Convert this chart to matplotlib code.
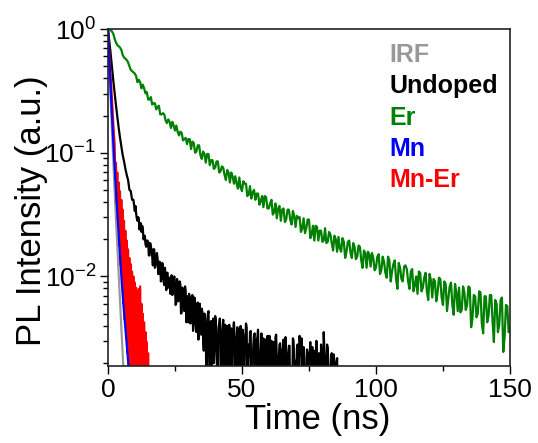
import numpy as np
import matplotlib
matplotlib.use("Agg")
import matplotlib.pyplot as plt
from matplotlib.ticker import FixedLocator, LogLocator

plt.rcParams['font.family'] = ['Liberation Sans', 'DejaVu Sans']
plt.rcParams['mathtext.default'] = 'regular'

# PL decay curves, log10 of normalised intensity
# IRF, Mn: 0.5 ns steps from t = 0
irf_log = [0.00, -0.28, -0.56, -0.82, -1.07, -1.31, -1.54, -1.76, -1.98,
           -2.20, -2.42, -2.63, -2.85]
mn_log = [0.00, -0.24, -0.48, -0.70, -0.92, -1.12, -1.31, -1.49, -1.66,
          -1.83, -2.00, -2.15, -2.29, -2.42, -2.55, -2.68, -2.80]

# Mn-Er: 0.25 ns steps from t = 0
mner_log = [0.00, -0.10, -0.19, -0.29, -0.38, -0.47, -0.57, -0.66, -0.76, -0.85,
            -0.93, -1.21, -1.08, -1.40, -1.16, -1.58, -1.24, -1.75, -1.31, -1.91,
            -1.38, -2.08, -1.46, -2.22, -1.55, -2.35, -1.63, -2.48, -1.71, -2.62,
            -1.78, -2.85, -1.85, -2.90, -1.90, -2.95, -1.96, -3.00, -2.00, -3.00,
            -2.05, -3.00, -2.09, -3.00, -2.12, -3.00, -2.10, -3.00, -2.08, -3.00,
            -2.22, -3.00, -2.30, -3.00, -2.37, -3.00, -2.45, -3.00, -2.53, -3.00,
            -2.62, -3.00, -2.75]

# Undoped: 0.5 ns steps from t = 0
undoped_log = [
    0.00, -0.10, -0.20, -0.31, -0.42, -0.52, -0.62, -0.71, -0.80, -0.88,
    -0.95, -1.02, -1.07, -1.13, -1.18,
    -1.22, -1.30, -1.31, -1.38, -1.38, -1.47, -1.49, -1.55, -1.53, -1.57,
    -1.64, -1.61, -1.68, -1.74, -1.71, -1.72,
    -1.83, -1.76, -1.84, -1.78, -1.93, -1.86, -1.85, -1.98, -1.91, -2.00,
    -1.91, -2.07, -1.99, -1.97, -2.09, -2.01, -2.09, -2.15, -2.03, -2.08,
    -2.21, -2.05, -2.18, -2.06, -2.29, -2.13, -2.28, -2.12, -2.20, -2.37,
    -2.17, -2.30, -2.15, -2.37, -2.24, -2.45, -2.21, -2.28, -2.44, -2.26,
    -2.52, -2.30, -2.41, -2.62, -2.28, -2.90, -2.36, -2.45, -2.70, -2.32,
    -2.55, -3.00, -2.38, -2.47, -2.66, -2.35, -3.00, -2.50, -2.40, -2.75,
    -3.00, -2.42, -2.58, -2.37, -3.00, -2.52, -2.44, -2.80, -2.40, -3.00,
    -2.48, -2.62, -2.38, -3.00, -2.55, -2.45, -3.00, -2.70, -2.47, -3.00,
    -2.52, -2.43, -3.00, -2.60, -3.00, -2.50, -2.66, -3.00, -2.48, -3.00,
    -2.58, -2.52, -3.00, -3.00, -2.49, -2.68, -3.00, -2.55, -3.00, -2.60,
    -2.51, -3.00, -2.65, -3.00, -2.56, -3.00, -3.00, -2.50, -2.70, -3.00,
    -2.58, -3.00, -2.48, -2.64, -3.00, -2.57, -3.00, -3.00, -2.62, -3.00,
    -2.53, -2.70, -3.00, -2.60, -3.00, -2.66, -3.00, -3.00, -2.55, -3.00,
    -2.45, -2.68, -3.00, -2.58, -3.00, -3.00, -2.62, -3.00, -2.70, -3.00,
    -2.66, -3.00]

# Undoped: extra readings at t = 10.25, 10.75, ... 85.75
undoped_q_log = [
    -1.43, -1.53, -1.52, -1.62, -1.57, -1.59, -1.70, -1.67, -1.76, -1.71,
    -1.83, -1.73, -1.78, -1.91, -1.78, -1.91, -1.81, -1.98, -1.88, -2.04,
    -1.89, -2.04, -1.93, -2.11, -1.97, -2.02, -2.14, -1.99, -2.13, -2.00,
    -2.23, -2.02, -2.20, -2.04, -2.30, -2.09, -2.22, -2.08, -2.37, -2.16,
    -2.14, -2.38, -2.18, -2.44, -2.17, -2.38, -2.22, -2.51, -2.22, -2.47,
    -2.29, -2.60, -2.33, -3.00, -2.31, -2.55, -2.37, -2.80, -2.34, -2.58,
    -2.36, -2.90, -2.42, -2.34, -3.00, -2.44, -2.62, -2.39, -3.00, -2.45,
    -2.39, -2.68, -3.00, -2.43, -2.50, -3.00, -2.41, -2.72, -2.46, -3.00,
    -2.43, -3.00, -2.52, -2.41, -3.00, -2.65, -2.44, -3.00, -2.55, -2.46,
    -3.00, -2.49, -2.70, -3.00, -2.46, -2.58, -3.00, -2.51, -3.00, -2.56,
    -2.48, -3.00, -2.62, -2.53, -3.00, -2.47, -3.00, -2.66, -2.54, -3.00,
    -2.58, -3.00, -2.49, -3.00, -2.63, -2.56, -3.00, -3.00, -2.52, -2.68,
    -3.00, -2.55, -3.00, -2.60, -2.50, -3.00, -2.66, -3.00, -2.59, -3.00,
    -2.64, -3.00, -2.57, -3.00, -2.70, -2.52, -3.00, -2.62, -3.00, -2.67,
    -3.00, -2.60, -3.00, -2.55, -2.72, -3.00, -2.66, -3.00, -2.63, -3.00,
    -2.70, -3.00]

# Er: readings at whole ns (t = 1..150)
er_log = [
    -0.01, -0.04, -0.11, -0.14, -0.17, -0.23, -0.25, -0.30, -0.34, -0.36,
    -0.43, -0.43, -0.45, -0.52, -0.57, -0.55, -0.60, -0.65, -0.62, -0.69,
    -0.69, -0.76, -0.75, -0.75, -0.82, -0.83, -0.83, -0.90, -0.88, -0.89,
    -0.97, -0.92, -0.99, -0.94, -1.05, -1.01, -1.01, -1.10, -1.06, -1.12,
    -1.07, -1.15, -1.12, -1.22, -1.16, -1.16, -1.25, -1.25, -1.20, -1.31,
    -1.25, -1.35, -1.27, -1.32, -1.38, -1.33, -1.39, -1.44, -1.36, -1.45,
    -1.38, -1.48, -1.53, -1.43, -1.46, -1.56, -1.46, -1.54, -1.47, -1.60,
    -1.53, -1.64, -1.53, -1.61, -1.54, -1.66, -1.71, -1.60, -1.63, -1.72,
    -1.61, -1.72, -1.66, -1.79, -1.70, -1.68, -1.80, -1.72, -1.80, -1.71,
    -1.85, -1.76, -1.84, -1.76, -1.93, -1.81, -1.80, -1.92, -1.85, -1.93,
    -1.82, -1.95, -1.88, -2.01, -1.87, -1.96, -1.87, -2.10, -1.93, -2.04,
    -1.91, -2.04, -1.96, -2.12, -2.00, -1.96, -2.12, -2.01, -2.12, -1.98,
    -2.17, -2.04, -2.13, -2.02, -2.23, -2.06, -2.18, -2.05, -2.31, -2.13,
    -2.09, -2.27, -2.13, -2.23, -2.09, -2.34, -2.16, -2.30, -2.13, -2.46,
    -2.16, -2.32, -2.15, -2.53, -2.22, -2.39, -2.17, -2.49, -2.24, -2.42]

# Er: readings at half ns (t = 1.5..149.5)
er_half_log = [
    -0.02, -0.08, -0.13, -0.15, -0.21, -0.24, -0.27, -0.33, -0.35, -0.38,
    -0.41, -0.48, -0.48, -0.51, -0.57, -0.61, -0.60, -0.63, -0.69, -0.68,
    -0.74, -0.73, -0.80, -0.78, -0.78, -0.86, -0.84, -0.89, -0.93, -0.89,
    -0.91, -1.00, -0.94, -1.02, -0.99, -1.08, -1.01, -1.06, -1.13, -1.07,
    -1.16, -1.11, -1.18, -1.14, -1.24, -1.19, -1.19, -1.29, -1.28, -1.23,
    -1.25, -1.34, -1.37, -1.30, -1.33, -1.42, -1.35, -1.35, -1.45, -1.41,
    -1.50, -1.41, -1.45, -1.55, -1.45, -1.54, -1.46, -1.58, -1.51, -1.51,
    -1.52, -1.61, -1.65, -1.54, -1.69, -1.59, -1.59, -1.71, -1.63, -1.71,
    -1.73, -1.64, -1.73, -1.67, -1.80, -1.77, -1.69, -1.85, -1.72, -1.81,
    -1.73, -1.86, -1.75, -1.87, -1.79, -1.93, -1.82, -1.81, -1.95, -1.84,
    -1.98, -1.84, -1.97, -1.84, -2.04, -1.90, -2.02, -1.89, -2.02, -1.92,
    -1.94, -2.10, -1.94, -2.07, -2.14, -1.97, -2.09, -1.97, -2.19, -2.03,
    -2.02, -2.20, -2.01, -2.17, -2.04, -2.28, -2.08, -2.23, -2.06, -2.28,
    -2.29, -2.08, -2.27, -2.08, -2.41, -2.15, -2.33, -2.12, -2.38, -2.16,
    -2.37, -2.15, -2.36, -2.19, -2.45, -2.19, -2.61, -2.23, -2.45]

labels = ['IRF', 'Undoped', 'Er', 'Mn', 'Mn-Er']
colors = ['#999999', 'black', '#008000', '#0000ff', '#ff0000']


def merge(t_a, v_a, t_b, v_b):
    # put two sets of readings of the same trace in time order
    t = np.concatenate([t_a, t_b])
    v = np.concatenate([v_a, v_b])
    idx = np.argsort(t, kind='stable')
    return t[idx], v[idx]


t_irf = np.arange(len(irf_log)) * 0.5
t_mn = np.arange(len(mn_log)) * 0.5
t_mner = np.arange(len(mner_log)) * 0.25
t_und, v_und = merge(np.arange(len(undoped_log)) * 0.5, undoped_log,
                     10.25 + np.arange(len(undoped_q_log)) * 0.5, undoped_q_log)
t_er, v_er = merge(np.arange(1, len(er_log) + 1) * 1.0, er_log,
                   np.arange(1, len(er_half_log) + 1) + 0.5, er_half_log)

fig = plt.figure(figsize=(5.38, 4.43), dpi=100)
ax = fig.add_axes([0.2007, 0.1738, 0.7472, 0.7607])

ax.plot(t_irf, 10 ** np.array(irf_log), color=colors[0], lw=1.6)
ax.plot(t_und, 10 ** v_und, color=colors[1], lw=1.6)
ax.plot(t_er, 10 ** v_er, color=colors[2], lw=1.6)
ax.plot(t_mner, 10 ** np.array(mner_log), color=colors[4], lw=1.5)
ax.plot(t_mn, 10 ** np.array(mn_log), color=colors[3], lw=1.6)

ax.set_yscale('log')
ax.set_xlim(0, 150)
ax.set_ylim(0.00189, 1)

ax.xaxis.set_major_locator(FixedLocator([0, 50, 100, 150]))
ax.xaxis.set_minor_locator(FixedLocator([25, 75, 125]))
ax.yaxis.set_major_locator(LogLocator(base=10, numticks=10))
ax.yaxis.set_minor_locator(LogLocator(base=10, subs=np.arange(2, 10), numticks=20))

ax.tick_params(axis='both', which='major', direction='out', length=5.5, width=1,
               labelsize=19, pad=3)
ax.tick_params(axis='both', which='minor', direction='out', length=3.5, width=1)
ax.tick_params(top=False, right=False, which='both')

for s in ax.spines.values():
    s.set_linewidth(1.2)
    s.set_color('#222222')

ax.set_xlabel('Time (ns)', fontsize=25)
ax.set_ylabel('PL Intensity (a.u.)', fontsize=25)
ax.xaxis.set_label_coords(0.521, -0.11)
ax.yaxis.set_label_coords(-0.15, 0.46)

for i, (lab, col) in enumerate(zip(labels, colors)):
    ax.text(0.70, 0.902 - i * 0.093, lab, color=col, fontsize=18,
            fontweight='bold', transform=ax.transAxes, va='baseline', ha='left')

fig.savefig('out.png', dpi=100)
